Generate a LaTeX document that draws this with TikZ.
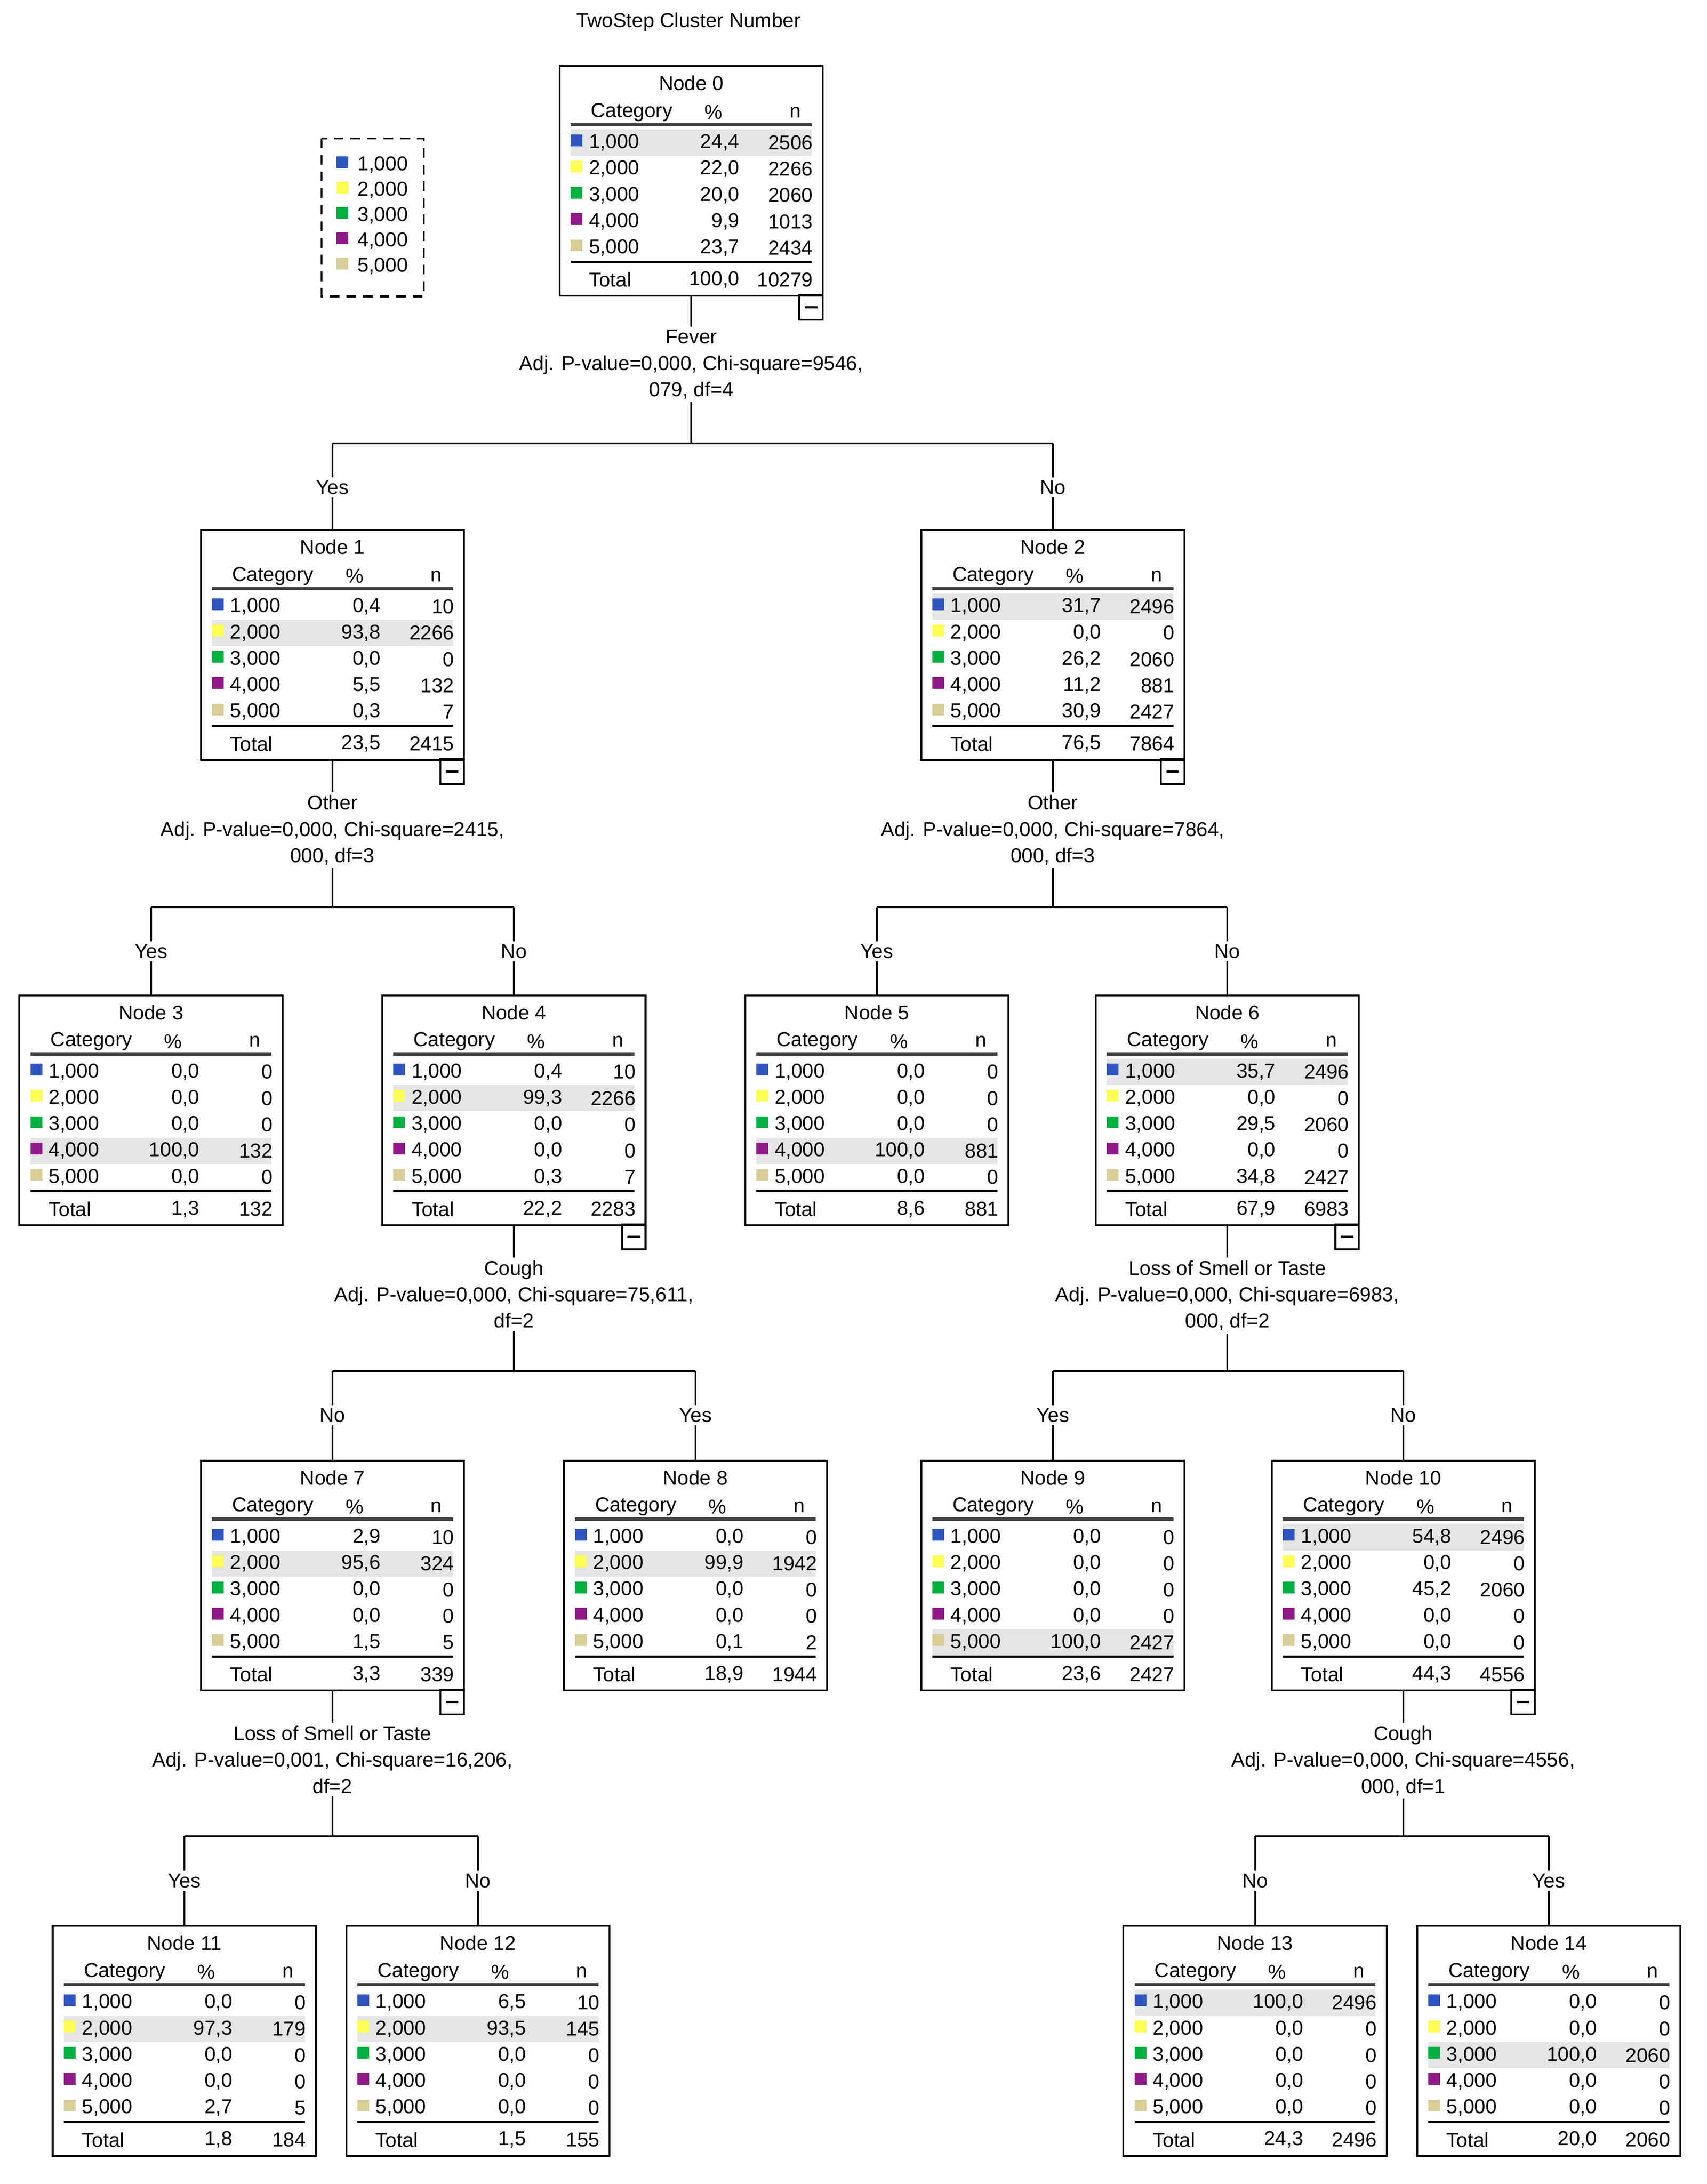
\documentclass[tikz,border=0pt]{standalone}
\usepackage{fontspec}
\setmainfont{Liberation Sans}
\begin{document}
\definecolor{c1}{HTML}{2F55BF}
\definecolor{c2}{HTML}{FFFF55}
\definecolor{c3}{HTML}{00B040}
\definecolor{c4}{HTML}{901A88}
\definecolor{c5}{HTML}{D8CE98}
\tikzset{
 box/.style={draw,line width=1.3pt,minimum width=190pt,minimum height=166pt,inner sep=0pt},
 txt/.style={inner sep=0pt,font=\fontsize{14.5}{17.5}\selectfont},
 lab/.style={inner sep=2pt,align=center,font=\fontsize{14.5}{19}\selectfont},
 ln/.style={line width=1.3pt},
 hl/.style={fill=black!10},
}
\newcommand\tnode[9]{%
 \node[box,anchor=north] (#1) at (#2,-#3) {};
 \pgfmathsetmacro\L{#2-95}\pgfmathsetmacro\T{-#3}
 \fill[hl] (\L+8,\T-46.5-19*#5+19) rectangle (\L+182,\T-65.5-19*#5+19);
 \node[txt] (#1t) at (#2,\T-13) {#4};
 \node[txt] (#1hc) at (\L+52,\T-34) {Category};
 \node[txt] (#1hp) at (\L+111,\T-34) {\%};
 \node[txt] (#1hn) at (\L+170,\T-34) {n};
 \draw[line width=2.4pt,black!75] (\L+8,\T-43) -- (\L+182,\T-43);
 \foreach \p/\n [count=\i] in {#6} {
  \pgfmathsetmacro\y{\T-56-19*(\i-1)}
  \fill[c\i] (\L+8,\y-2.5) rectangle ++(8.5,8.5);
  \node[txt,anchor=west] (#1c\i) at (\L+21,\y) {\i,000};
  \node[txt,anchor=east] (#1p\i) at (\L+130,\y) {\p};
  \node[txt,anchor=east] (#1n\i) at (\L+183,\y) {\n};
 }
 \draw[line width=1.6pt] (\L+8,\T-142) -- (\L+182,\T-142);
 \node[txt,anchor=west] (#1tt) at (\L+21,\T-155) {Total};
 \node[txt,anchor=east] (#1tp) at (\L+130,\T-155) {#7};
 \node[txt,anchor=east] (#1tn) at (\L+183,\T-155) {#8};
 \ifnum#9=1
  \draw[ln] (\L+173,\T-166) rectangle (\L+190,\T-184);
  \draw[line width=1.6pt] (\L+177,\T-175) -- (\L+186,\T-175);
 \fi
}
% parent, label name, label text, label top y, left x, bar y, right x, left word, right word
\newcommand\splitnode[9]{%
 \node[lab,anchor=north] (#2) at (#1.south |- 0,-#4) {#3};
 \coordinate (#2l) at (#5,-#6);
 \coordinate (#2r) at (#7,-#6);
 \draw[ln] (#1.south) -- (#2.north);
 \draw[ln] (#2.south) -- (#2.south |- #2l);
 \draw[ln] (#2l) -- (#2r);
 \node[lab] (#2yl) at (#5,-#6-32) {#8};
 \node[lab] (#2yr) at (#7,-#6-32) {#9};
 \draw[ln] (#2l) -- (#2yl.north);
 \draw[ln] (#2r) -- (#2yr.north);
}
\begin{tikzpicture}[x=1pt,y=1pt]
\useasboundingbox[fill=white] (0,0) rectangle (1232,-1577);
\node[lab] (title) at (497,-16) {TwoStep Cluster Number};
% legend
\draw[line width=1.3pt,dash pattern=on 7pt off 5pt] (232,-100) rectangle (306,-214);
\foreach \i in {1,...,5}{
 \fill[c\i] (243,-119-18.3*\i+18.3-2.5) rectangle ++(8.5,8.5);
 \node[txt,anchor=west] (leg\i) at (258,-119-18.3*\i+18.3) {\i,000};
}
% level 0
\tnode{n0}{499}{47}{Node 0}{1}{24{,}4/2506,22{,}0/2266,20{,}0/2060,9{,}9/1013,23{,}7/2434}{100,0}{10279}{1}
\splitnode{n0}{s0}{Fever\\Adj. P-value=0,000, Chi-square=9546,\\079, df=4}{236}{240}{320}{760}{Yes}{No}
% level 1
\tnode{n1}{240}{382}{Node 1}{2}{0{,}4/10,93{,}8/2266,0{,}0/0,5{,}5/132,0{,}3/7}{23,5}{2415}{1}
\tnode{n2}{760}{382}{Node 2}{1}{31{,}7/2496,0{,}0/0,26{,}2/2060,11{,}2/881,30{,}9/2427}{76,5}{7864}{1}
\draw[ln] (s0yl) -- (n1); \draw[ln] (s0yr) -- (n2);
\splitnode{n1}{s1}{Other\\Adj. P-value=0,000, Chi-square=2415,\\000, df=3}{572}{109}{655}{371}{Yes}{No}
\splitnode{n2}{s2}{Other\\Adj. P-value=0,000, Chi-square=7864,\\000, df=3}{572}{633}{655}{886}{Yes}{No}
% level 2
\tnode{n3}{109}{718}{Node 3}{4}{0{,}0/0,0{,}0/0,0{,}0/0,100{,}0/132,0{,}0/0}{1,3}{132}{0}
\tnode{n4}{371}{718}{Node 4}{2}{0{,}4/10,99{,}3/2266,0{,}0/0,0{,}0/0,0{,}3/7}{22,2}{2283}{1}
\tnode{n5}{633}{718}{Node 5}{4}{0{,}0/0,0{,}0/0,0{,}0/0,100{,}0/881,0{,}0/0}{8,6}{881}{0}
\tnode{n6}{886}{718}{Node 6}{1}{35{,}7/2496,0{,}0/0,29{,}5/2060,0{,}0/0,34{,}8/2427}{67,9}{6983}{1}
\draw[ln] (s1yl) -- (n3); \draw[ln] (s1yr) -- (n4);
\draw[ln] (s2yl) -- (n5); \draw[ln] (s2yr) -- (n6);
\splitnode{n4}{s4}{Cough\\Adj. P-value=0,000, Chi-square=75,611,\\df=2}{908}{240}{990}{502}{No}{Yes}
\splitnode{n6}{s6}{Loss of Smell or Taste\\Adj. P-value=0,000, Chi-square=6983,\\000, df=2}{908}{760}{990}{1013}{Yes}{No}
% level 3
\tnode{n7}{240}{1054}{Node 7}{2}{2{,}9/10,95{,}6/324,0{,}0/0,0{,}0/0,1{,}5/5}{3,3}{339}{1}
\tnode{n8}{502}{1054}{Node 8}{2}{0{,}0/0,99{,}9/1942,0{,}0/0,0{,}0/0,0{,}1/2}{18,9}{1944}{0}
\tnode{n9}{760}{1054}{Node 9}{5}{0{,}0/0,0{,}0/0,0{,}0/0,0{,}0/0,100{,}0/2427}{23,6}{2427}{0}
\tnode{n10}{1013}{1054}{Node 10}{1}{54{,}8/2496,0{,}0/0,45{,}2/2060,0{,}0/0,0{,}0/0}{44,3}{4556}{1}
\draw[ln] (s4yl) -- (n7); \draw[ln] (s4yr) -- (n8);
\draw[ln] (s6yl) -- (n9); \draw[ln] (s6yr) -- (n10);
\splitnode{n7}{s7}{Loss of Smell or Taste\\Adj. P-value=0,001, Chi-square=16,206,\\df=2}{1244}{133}{1326}{345}{Yes}{No}
\splitnode{n10}{s10}{Cough\\Adj. P-value=0,000, Chi-square=4556,\\000, df=1}{1244}{906}{1326}{1118}{No}{Yes}
% level 4
\tnode{n11}{133}{1390}{Node 11}{2}{0{,}0/0,97{,}3/179,0{,}0/0,0{,}0/0,2{,}7/5}{1,8}{184}{0}
\tnode{n12}{345}{1390}{Node 12}{2}{6{,}5/10,93{,}5/145,0{,}0/0,0{,}0/0,0{,}0/0}{1,5}{155}{0}
\tnode{n13}{906}{1390}{Node 13}{1}{100{,}0/2496,0{,}0/0,0{,}0/0,0{,}0/0,0{,}0/0}{24,3}{2496}{0}
\tnode{n14}{1118}{1390}{Node 14}{3}{0{,}0/0,0{,}0/0,100{,}0/2060,0{,}0/0,0{,}0/0}{20,0}{2060}{0}
\draw[ln] (s7yl) -- (n11); \draw[ln] (s7yr) -- (n12);
\draw[ln] (s10yl) -- (n13); \draw[ln] (s10yr) -- (n14);
\end{tikzpicture}
\end{document}
